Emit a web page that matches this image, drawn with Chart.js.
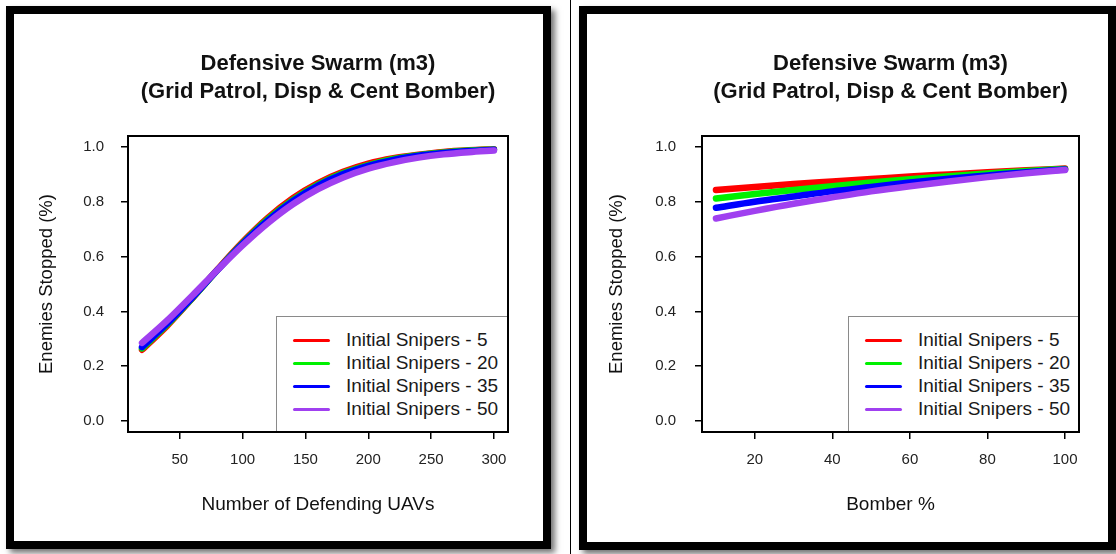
<!DOCTYPE html>
<html><head><meta charset="utf-8">
<script src="https://cdn.jsdelivr.net/npm/chart.js@4.4.1/dist/chart.umd.min.js"></script>
<style>
html,body{margin:0;padding:0;background:#fff;width:1116px;height:554px;overflow:hidden;font-family:"Liberation Sans",Arial,sans-serif}
.frame{position:absolute;border:8px solid #000;box-shadow:4px 4px 6px rgba(0,0,0,0.55);background:#fff;box-sizing:border-box}
.sep{position:absolute;left:570px;top:0;width:1px;height:554px;background:#000}
.wrap{position:absolute}
.legend{position:absolute;border-top:1.5px solid #8a8a8a;border-left:1.5px solid #8a8a8a;background:#fff;box-sizing:border-box;padding-top:12px}
.row{position:relative;height:23px;font-size:19px;color:#1a1a1a;white-space:nowrap;line-height:23px}
.sw{position:absolute;left:16px;top:10px;width:37px;height:3px;border-radius:1.5px}
.tx{position:absolute;left:69px;top:-1px}
</style></head>
<body>
<div class="frame" style="left:6px;top:6px;width:545px;height:543px"></div>
<div class="sep"></div>
<div class="frame" style="left:579px;top:6px;width:537px;height:544px"></div>
<div class="wrap" style="left:14px;top:14px;width:529px;height:528px"><canvas id="c1" width="529" height="528"></canvas></div>
<div class="wrap" style="left:587px;top:14px;width:519px;height:528px"><canvas id="c2" width="519" height="528"></canvas></div>
<script>
// ---- data ----
const titleLines = ['Defensive Swarm (m3)', '(Grid Patrol, Disp & Cent Bomber)'];
const yTitle = 'Enemies Stopped (%)';
const seriesLabels = ['Initial Snipers - 5', 'Initial Snipers - 20', 'Initial Snipers - 35', 'Initial Snipers - 50'];
const seriesColors = ['#ff0000', '#00f000', '#0000ff', '#a040f0'];
const yTicks = [0.0, 0.2, 0.4, 0.6, 0.8, 1.0];

const uavTitle = 'Number of Defending UAVs';
const uavTicks = [50, 100, 150, 200, 250, 300];
const xUAV = [20, 40, 60, 80, 100, 120, 140, 160, 180, 200, 220, 240, 260, 280, 300];
const uavSnipers5  = [0.260, 0.348, 0.448, 0.553, 0.653, 0.741, 0.813, 0.868, 0.909, 0.939, 0.959, 0.972, 0.982, 0.988, 0.992];
const uavSnipers20 = [0.265, 0.352, 0.449, 0.551, 0.649, 0.736, 0.807, 0.863, 0.905, 0.934, 0.956, 0.970, 0.980, 0.987, 0.991];
const uavSnipers35 = [0.270, 0.356, 0.451, 0.551, 0.647, 0.732, 0.803, 0.859, 0.901, 0.931, 0.953, 0.968, 0.978, 0.985, 0.990];
const uavSnipers50 = [0.285, 0.367, 0.458, 0.551, 0.641, 0.722, 0.791, 0.846, 0.889, 0.921, 0.944, 0.961, 0.973, 0.981, 0.987];

const bomberTitle = 'Bomber %';
const bomberTicks = [20, 40, 60, 80, 100];
const xBomber = [10, 20, 30, 40, 50, 60, 70, 80, 90, 100];
const bomSnipers5  = [0.843, 0.854, 0.865, 0.874, 0.883, 0.892, 0.900, 0.908, 0.915, 0.921];
const bomSnipers20 = [0.812, 0.828, 0.843, 0.857, 0.870, 0.882, 0.893, 0.903, 0.912, 0.920];
const bomSnipers35 = [0.778, 0.800, 0.819, 0.838, 0.854, 0.870, 0.884, 0.896, 0.908, 0.918];
const bomSnipers50 = [0.739, 0.767, 0.793, 0.816, 0.838, 0.857, 0.874, 0.890, 0.904, 0.916];

// ---- chart ----
Chart.defaults.font.family = "'Liberation Sans', Arial, sans-serif";
Chart.defaults.color = '#1a1a1a';

const boxPlugin = {
  id: 'rbox',
  afterDatasetsDraw(chart) {
    const a = chart.chartArea, ctx = chart.ctx;
    ctx.save(); ctx.strokeStyle = '#000'; ctx.lineWidth = 2;
    ctx.strokeRect(a.left, a.top, a.right - a.left, a.bottom - a.top);
    ctx.restore();
  }
};

function makeChart(id, xs, series, xTicks, xTitle, xMin, xMax, opt) {
  const datasets = series.map((s, i) => ({
    label: seriesLabels[i],
    data: xs.map((x, j) => ({x: x, y: s[j]})),
    borderColor: seriesColors[i],
    backgroundColor: seriesColors[i],
    borderWidth: 6.5,
    borderCapStyle: 'round',
    pointRadius: 0,
    cubicInterpolationMode: 'monotone',
    order: series.length - i
  }));
  const chart = new Chart(document.getElementById(id), {
    type: 'line',
    data: {datasets},
    options: {
      responsive: false, animation: false, devicePixelRatio: 1,
      layout: {padding: {left: 0, right: opt.padRight, top: 0, bottom: 0}},
      plugins: {
        legend: {display: false}, tooltip: {enabled: false},
        title: {display: true, text: titleLines, fullSize: false, color: '#111',
          font: {size: 22, weight: 'bold', lineHeight: 1.3}, padding: {top: 35.5, bottom: 29.3}}
      },
      scales: {
        x: {type: 'linear', min: xMin, max: xMax,
          afterBuildTicks: s => { s.ticks = xTicks.map(v => ({value: v})); },
          afterFit: s => { s.height = 110; },
          grid: {display: true, drawOnChartArea: false, drawTicks: true, tickLength: 7, color: '#000', lineWidth: 1.5},
          border: {display: true, color: '#000', width: 2},
          ticks: {padding: 12, maxRotation: 0, autoSkip: false, font: {size: 15}, color: '#222', callback: v => String(v)},
          title: {display: true, text: xTitle, font: {size: 19}, color: '#111', padding: {top: 0, bottom: 26}}
        },
        y: {type: 'linear', min: -0.04, max: 1.04,
          afterBuildTicks: s => { s.ticks = yTicks.map(v => ({value: v})); },
          afterFit: s => { s.width = opt.yWidth; },
          grid: {display: true, drawOnChartArea: false, drawTicks: true, tickLength: 7, color: '#000', lineWidth: 1.5},
          border: {display: true, color: '#000', width: 2},
          ticks: {padding: opt.yPad, font: {size: 15}, color: '#222', callback: v => Number(v).toFixed(1)},
          title: {display: true, text: yTitle, font: {size: 18.5}, color: '#111', padding: {top: opt.yTitlePad, bottom: 0}}
        }
      }
    },
    plugins: [boxPlugin]
  });
  // HTML legend inside the plot area, bottom-right
  const a = chart.chartArea;
  const wrap = chart.canvas.parentNode;
  const lg = document.createElement('div');
  lg.className = 'legend';
  lg.style.left = (a.right - opt.legW) + 'px';
  lg.style.top = (a.bottom - 116) + 'px';
  lg.style.width = (opt.legW - 1) + 'px';
  lg.style.height = (116 - 1) + 'px';
  seriesLabels.forEach((lab, i) => {
    const r = document.createElement('div'); r.className = 'row';
    const sw = document.createElement('span'); sw.className = 'sw'; sw.style.background = seriesColors[i];
    const tx = document.createElement('span'); tx.className = 'tx'; tx.textContent = lab;
    r.appendChild(sw); r.appendChild(tx); lg.appendChild(r);
  });
  wrap.appendChild(lg);
  return chart;
}

makeChart('c1', xUAV, [uavSnipers5, uavSnipers20, uavSnipers35, uavSnipers50], uavTicks, uavTitle, 8.8, 311.2,
  {padRight: 35, yWidth: 114, yPad: 17, yTitlePad: 22, legW: 232});
makeChart('c2', xBomber, [bomSnipers5, bomSnipers20, bomSnipers35, bomSnipers50], bomberTicks, bomberTitle, 6.4, 103.6,
  {padRight: 27, yWidth: 115, yPad: 19, yTitlePad: 19, legW: 231});
</script>
</body></html>
